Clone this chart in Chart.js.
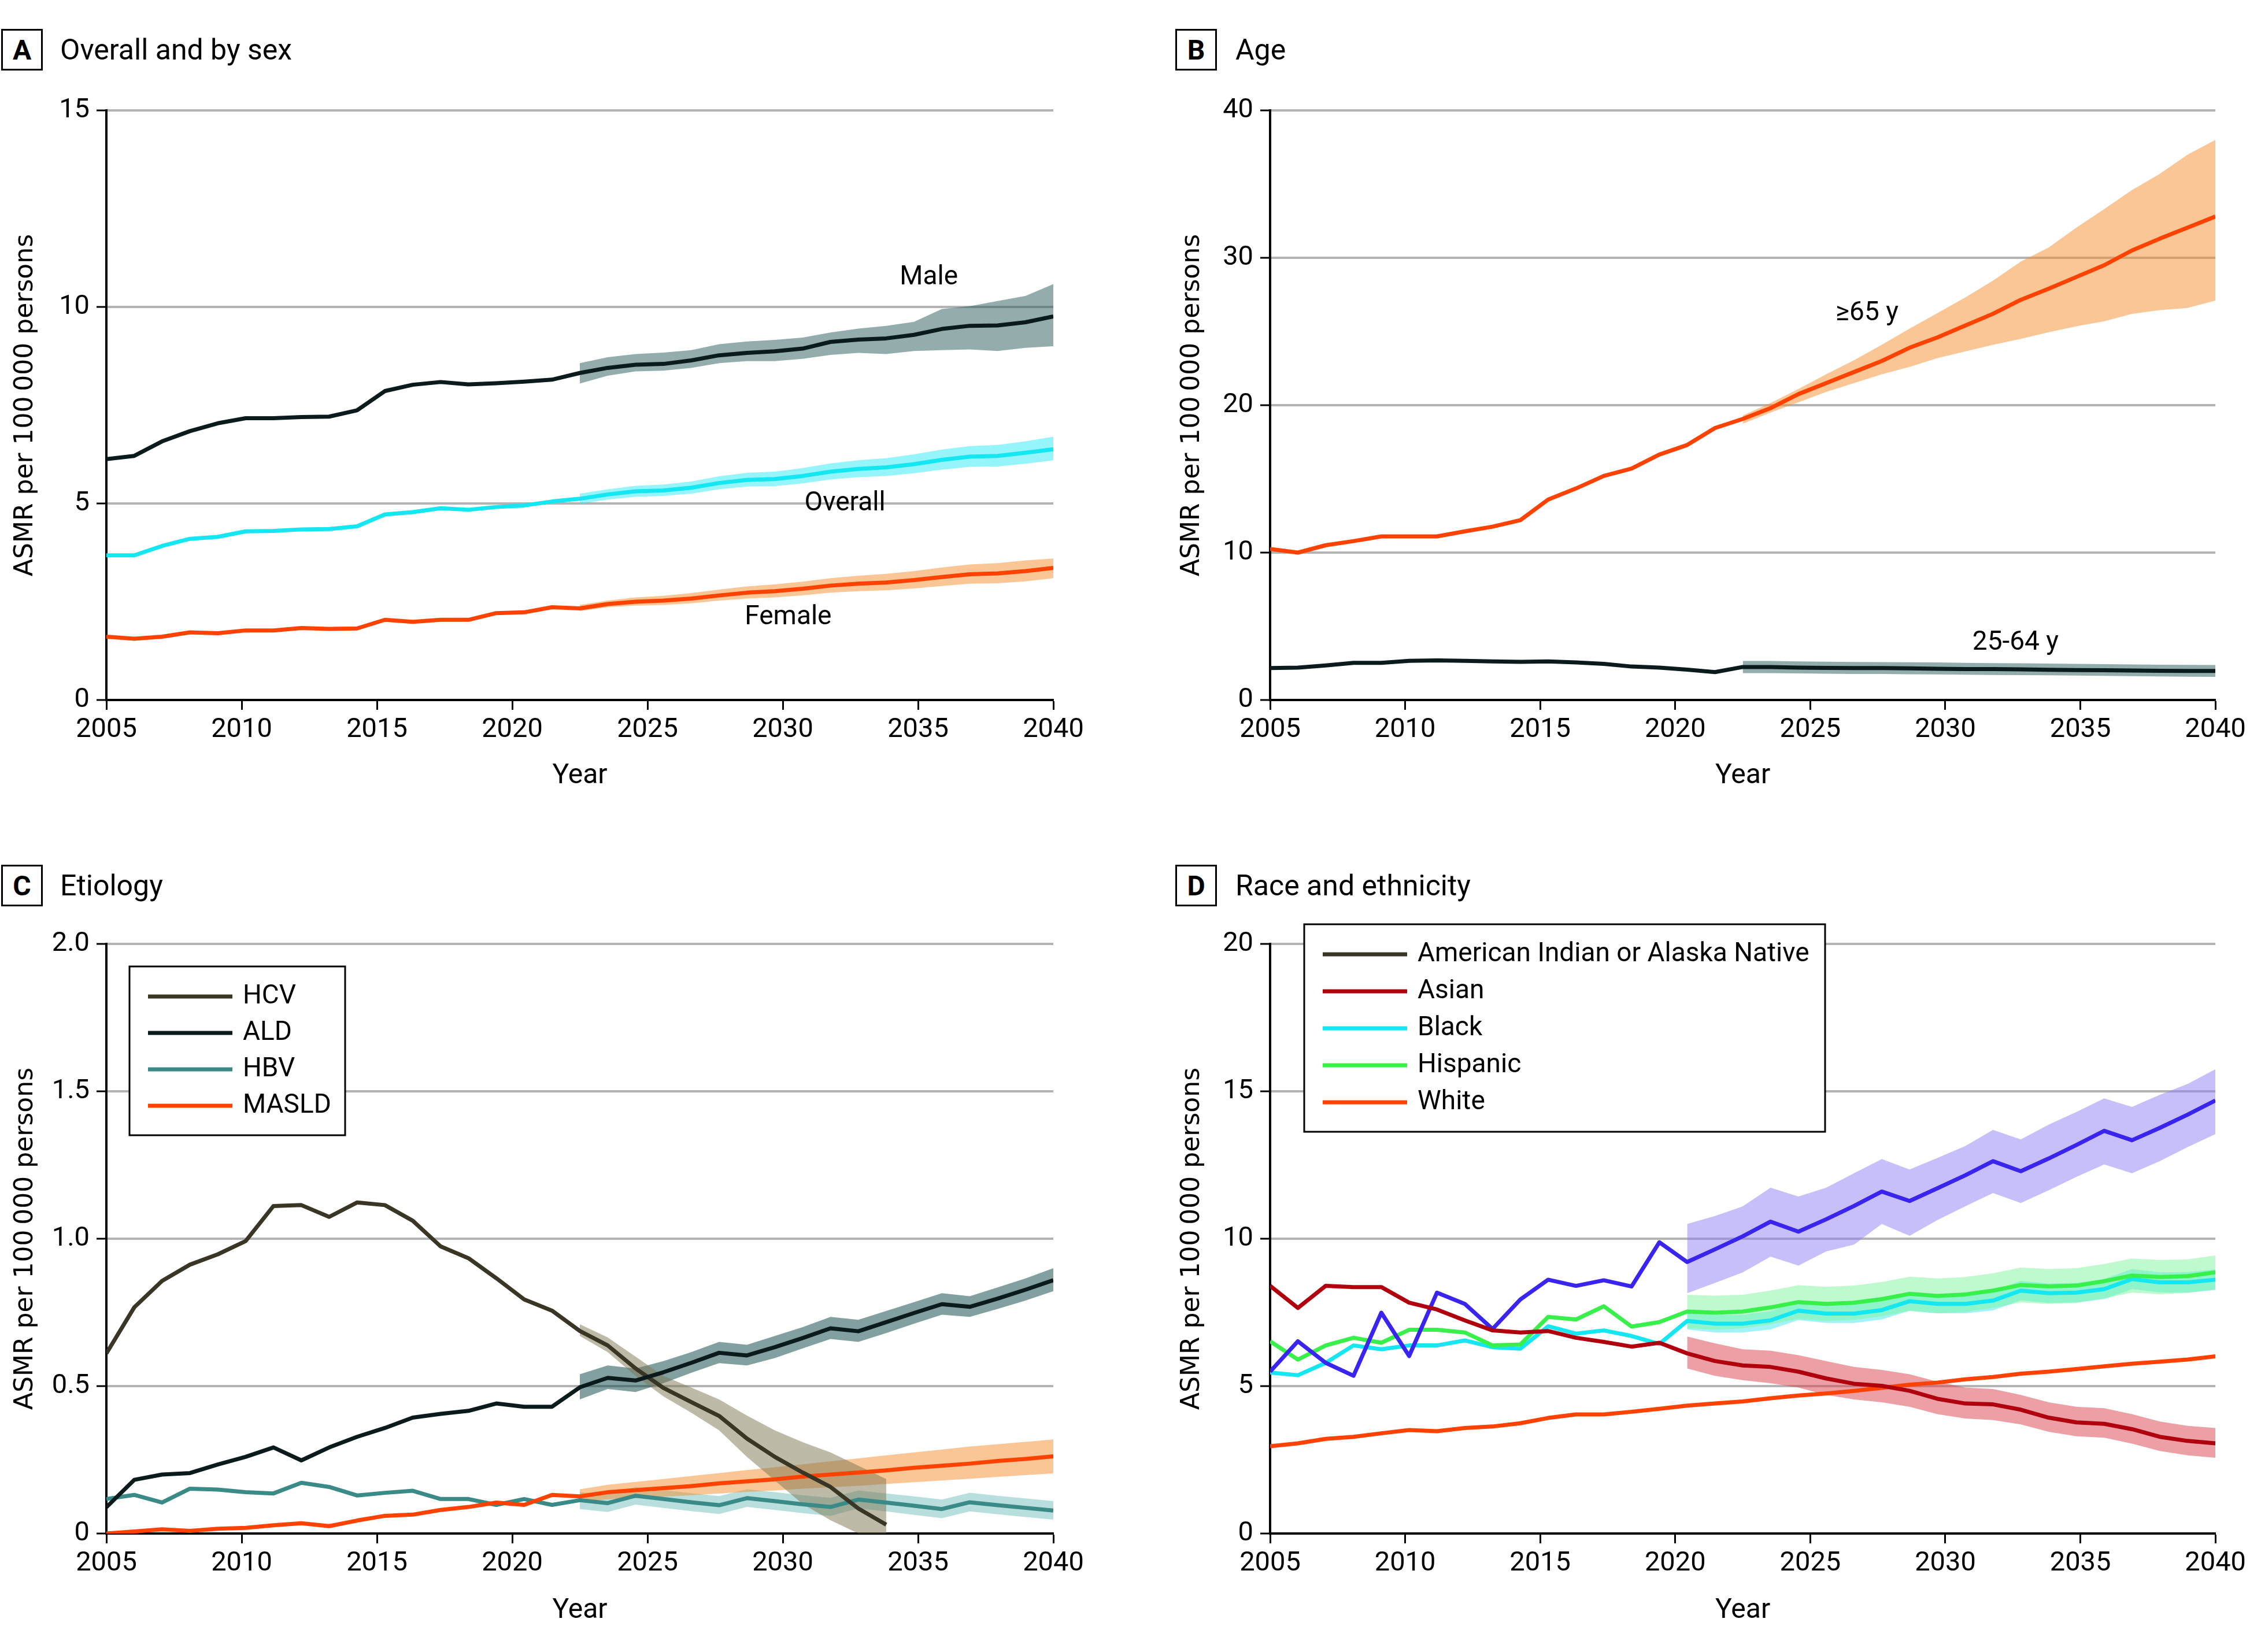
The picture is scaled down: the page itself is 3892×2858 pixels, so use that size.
<!DOCTYPE html>
<html>
<head>
<meta charset="utf-8">
<script src="https://cdn.jsdelivr.net/npm/chart.js@4.4.1/dist/chart.umd.min.js"></script>
<style>
body { margin: 0; background: #fff; width: 3892px; height: 2858px; position: relative; overflow: hidden; font-family: Roboto, sans-serif; }
canvas { position: absolute; }
.tag { position: absolute; width: 72px; height: 72px; border: 3px solid #000; box-sizing: border-box; font: bold 48px Roboto; display: flex; align-items: center; justify-content: center; }
.ttl { position: absolute; font: 50px Roboto; line-height: 72px; height: 72px; white-space: nowrap; }
</style>
</head>
<body>
<div class="tag" style="left:2px;top:50px">A</div><div class="ttl" style="left:104px;top:50px">Overall and by sex</div>
<div class="tag" style="left:2033px;top:50px">B</div><div class="ttl" style="left:2137px;top:50px">Age</div>
<div class="tag" style="left:2px;top:1496px">C</div><div class="ttl" style="left:104px;top:1496px">Etiology</div>
<div class="tag" style="left:2033px;top:1496px">D</div><div class="ttl" style="left:2137px;top:1496px">Race and ethnicity</div>

<canvas id="cA" width="1940" height="1284" style="left:0;top:130px"></canvas>
<canvas id="cB" width="1942" height="1284" style="left:1950px;top:130px"></canvas>
<canvas id="cC" width="1940" height="1418" style="left:0;top:1440px"></canvas>
<canvas id="cD" width="1942" height="1418" style="left:1950px;top:1440px"></canvas>

<script>
// 35 yearly points spread evenly over 2005-2040
const xTicks = [2005, 2010, 2015, 2020, 2025, 2030, 2035, 2040];
const yTicksA = [0, 5, 10, 15];
const yTicksB = [0, 10, 20, 30, 40];
const yTicksC = [0, 0.5, 1, 1.5, 2];
const yLabelsC = ["0", "0.5", "1.0", "1.5", "2.0"];
const yTicksD = [0, 5, 10, 15, 20];

// A: overall and by sex (projection band from point 17)
const male = [6.13, 6.21, 6.58, 6.84, 7.04, 7.17, 7.17, 7.20, 7.21, 7.37, 7.86, 8.02, 8.09, 8.03, 8.06, 8.10, 8.15, 8.32, 8.45, 8.53, 8.55, 8.64, 8.77, 8.83, 8.87, 8.94, 9.11, 9.17, 9.20, 9.29, 9.44, 9.52, 9.53, 9.61, 9.76];
const maleHi = [8.57, 8.72, 8.80, 8.84, 8.90, 9.05, 9.12, 9.16, 9.22, 9.35, 9.45, 9.52, 9.62, 9.95, 10.02, 10.15, 10.28, 10.58];
const maleLo = [8.05, 8.25, 8.36, 8.38, 8.45, 8.57, 8.62, 8.62, 8.68, 8.78, 8.83, 8.80, 8.88, 8.90, 8.92, 8.88, 8.96, 9.00];
const overall = [3.68, 3.68, 3.92, 4.10, 4.15, 4.29, 4.30, 4.34, 4.35, 4.42, 4.72, 4.78, 4.88, 4.84, 4.91, 4.95, 5.05, 5.12, 5.23, 5.31, 5.33, 5.40, 5.52, 5.60, 5.62, 5.70, 5.81, 5.88, 5.92, 6.00, 6.11, 6.19, 6.21, 6.29, 6.38];
const overallHi = [5.25, 5.36, 5.45, 5.48, 5.56, 5.69, 5.78, 5.81, 5.90, 6.02, 6.10, 6.15, 6.25, 6.37, 6.46, 6.49, 6.58, 6.70];
const overallLo = [4.99, 5.10, 5.17, 5.19, 5.25, 5.36, 5.43, 5.44, 5.51, 5.61, 5.67, 5.70, 5.77, 5.86, 5.93, 5.94, 6.01, 6.10];
const female = [1.61, 1.56, 1.61, 1.72, 1.70, 1.77, 1.77, 1.83, 1.81, 1.82, 2.04, 1.99, 2.04, 2.04, 2.21, 2.23, 2.36, 2.33, 2.44, 2.50, 2.53, 2.58, 2.66, 2.73, 2.77, 2.83, 2.91, 2.96, 2.99, 3.05, 3.13, 3.20, 3.22, 3.28, 3.36];
const femaleHi = [2.42, 2.53, 2.61, 2.65, 2.72, 2.81, 2.89, 2.94, 3.01, 3.10, 3.16, 3.21, 3.28, 3.37, 3.45, 3.48, 3.55, 3.60];
const femaleLo = [2.26, 2.36, 2.40, 2.42, 2.46, 2.53, 2.58, 2.61, 2.66, 2.73, 2.77, 2.79, 2.84, 2.90, 2.96, 2.97, 3.02, 3.10];

// B: age
const age65 = [10.25, 10.0, 10.5, 10.78, 11.1, 11.1, 11.1, 11.44, 11.76, 12.2, 13.6, 14.35, 15.2, 15.7, 16.65, 17.3, 18.45, 19.07, 19.8, 20.75, 21.5, 22.25, 23.0, 23.9, 24.6, 25.4, 26.2, 27.15, 27.9, 28.7, 29.5, 30.5, 31.3, 32.05, 32.8];
const age65Hi = [19.3, 20.15, 21.1, 22.1, 23.05, 24.1, 25.2, 26.25, 27.3, 28.45, 29.75, 30.7, 32.05, 33.3, 34.6, 35.7, 37.0, 38.0];
const age65Lo = [18.75, 19.5, 20.2, 20.9, 21.5, 22.1, 22.6, 23.2, 23.65, 24.1, 24.5, 24.95, 25.35, 25.7, 26.2, 26.45, 26.6, 27.1];
const age2564 = [2.17, 2.2, 2.34, 2.52, 2.52, 2.66, 2.69, 2.66, 2.62, 2.59, 2.62, 2.55, 2.45, 2.27, 2.2, 2.06, 1.89, 2.24, 2.24, 2.2, 2.18, 2.17, 2.17, 2.15, 2.12, 2.1, 2.1, 2.08, 2.05, 2.03, 2.02, 2.0, 1.98, 1.97, 1.97];
const age2564Hi = [2.65, 2.65, 2.62, 2.6, 2.58, 2.57, 2.56, 2.55, 2.52, 2.5, 2.49, 2.47, 2.45, 2.43, 2.41, 2.39, 2.38, 2.37];
const age2564Lo = [1.82, 1.82, 1.8, 1.78, 1.76, 1.76, 1.75, 1.74, 1.72, 1.7, 1.69, 1.68, 1.66, 1.64, 1.62, 1.6, 1.58, 1.57];

// C: etiology
const hcv = [0.611, 0.767, 0.857, 0.912, 0.947, 0.992, 1.111, 1.114, 1.074, 1.123, 1.114, 1.061, 0.974, 0.934, 0.866, 0.794, 0.756, 0.687, 0.638, 0.560, 0.494, 0.446, 0.399, 0.322, 0.260, 0.207, 0.158, 0.085, 0.030];
const hcvHi = [0.71, 0.665, 0.6, 0.535, 0.495, 0.455, 0.4, 0.35, 0.31, 0.275, 0.23, 0.185];
const hcvLo = [0.67, 0.615, 0.535, 0.465, 0.41, 0.35, 0.26, 0.18, 0.1, 0.045, 0.0, 0.0];
const ald = [0.089, 0.182, 0.2, 0.205, 0.234, 0.26, 0.292, 0.248, 0.292, 0.328, 0.358, 0.393, 0.406, 0.416, 0.441, 0.43, 0.43, 0.496, 0.528, 0.519, 0.547, 0.579, 0.613, 0.604, 0.632, 0.663, 0.696, 0.686, 0.717, 0.748, 0.778, 0.769, 0.797, 0.827, 0.859];
const aldHi = [0.54, 0.57, 0.56, 0.585, 0.615, 0.65, 0.64, 0.67, 0.70, 0.735, 0.725, 0.755, 0.785, 0.815, 0.805, 0.835, 0.865, 0.9];
const aldLo = [0.455, 0.49, 0.48, 0.51, 0.545, 0.578, 0.57, 0.595, 0.628, 0.66, 0.65, 0.68, 0.712, 0.742, 0.735, 0.762, 0.79, 0.822];
const hbv = [0.117, 0.131, 0.105, 0.152, 0.149, 0.14, 0.136, 0.172, 0.158, 0.129, 0.138, 0.145, 0.117, 0.117, 0.097, 0.117, 0.097, 0.113, 0.103, 0.128, 0.117, 0.106, 0.096, 0.12, 0.11, 0.099, 0.09, 0.115, 0.105, 0.094, 0.083, 0.106, 0.096, 0.087, 0.078];
const hbvHi = [0.14, 0.133, 0.158, 0.147, 0.137, 0.127, 0.15, 0.14, 0.13, 0.121, 0.146, 0.136, 0.126, 0.115, 0.138, 0.128, 0.119, 0.11];
const hbvLo = [0.083, 0.073, 0.098, 0.087, 0.076, 0.066, 0.09, 0.08, 0.069, 0.06, 0.085, 0.075, 0.063, 0.052, 0.075, 0.065, 0.056, 0.047];
const masld = [0.0, 0.007, 0.014, 0.009, 0.016, 0.019, 0.028, 0.035, 0.025, 0.044, 0.06, 0.064, 0.08, 0.09, 0.105, 0.097, 0.131, 0.126, 0.14, 0.147, 0.154, 0.161, 0.17, 0.177, 0.184, 0.193, 0.2, 0.207, 0.214, 0.223, 0.23, 0.237, 0.246, 0.253, 0.262];
const masldHi = [0.15, 0.165, 0.175, 0.185, 0.195, 0.205, 0.215, 0.225, 0.235, 0.245, 0.255, 0.265, 0.275, 0.285, 0.295, 0.303, 0.311, 0.319];
const masldLo = [0.106, 0.116, 0.12, 0.125, 0.13, 0.136, 0.141, 0.146, 0.152, 0.157, 0.162, 0.168, 0.174, 0.18, 0.186, 0.192, 0.198, 0.204];

// D: race and ethnicity (projection band from point 15)
const aian = [5.49, 6.52, 5.79, 5.35, 7.49, 6.02, 8.17, 7.79, 6.94, 7.94, 8.61, 8.40, 8.59, 8.38, 9.88, 9.21, 9.64, 10.08, 10.58, 10.24, 10.66, 11.11, 11.6, 11.28, 11.71, 12.15, 12.63, 12.29, 12.72, 13.18, 13.66, 13.34, 13.76, 14.21, 14.69];
const aianHi = [10.5, 10.77, 11.1, 11.73, 11.43, 11.73, 12.22, 12.7, 12.35, 12.74, 13.14, 13.69, 13.37, 13.87, 14.3, 14.76, 14.47, 14.88, 15.25, 15.75];
const aianLo = [8.15, 8.5, 8.86, 9.39, 9.09, 9.57, 9.8, 10.5, 10.1, 10.63, 11.1, 11.55, 11.21, 11.64, 12.1, 12.52, 12.22, 12.63, 13.11, 13.55];
const asian = [8.40, 7.65, 8.40, 8.36, 8.36, 7.83, 7.6, 7.23, 6.89, 6.82, 6.87, 6.64, 6.5, 6.34, 6.47, 6.11, 5.85, 5.7, 5.65, 5.49, 5.26, 5.08, 5.01, 4.84, 4.57, 4.41, 4.38, 4.2, 3.93, 3.77, 3.72, 3.54, 3.28, 3.14, 3.06];
const asianHi = [6.68, 6.45, 6.25, 6.2, 6.05, 5.85, 5.65, 5.55, 5.4, 5.15, 4.95, 4.9, 4.7, 4.45, 4.3, 4.25, 4.05, 3.8, 3.65, 3.58];
const asianLo = [5.6, 5.35, 5.2, 5.1, 4.95, 4.7, 4.55, 4.45, 4.3, 4.05, 3.9, 3.85, 3.7, 3.45, 3.3, 3.25, 3.05, 2.8, 2.65, 2.57];
const black = [5.46, 5.37, 5.79, 6.38, 6.25, 6.38, 6.38, 6.55, 6.32, 6.27, 7.03, 6.78, 6.89, 6.7, 6.43, 7.21, 7.12, 7.12, 7.23, 7.56, 7.46, 7.46, 7.58, 7.88, 7.79, 7.79, 7.9, 8.24, 8.15, 8.17, 8.29, 8.63, 8.52, 8.52, 8.61];
const blackHi = [7.5, 7.42, 7.42, 7.54, 7.88, 7.78, 7.78, 7.9, 8.2, 8.11, 8.11, 8.23, 8.57, 8.48, 8.5, 8.63, 8.97, 8.86, 8.87, 8.96];
const blackLo = [6.92, 6.82, 6.82, 6.92, 7.24, 7.14, 7.14, 7.26, 7.56, 7.47, 7.47, 7.57, 7.91, 7.82, 7.84, 7.95, 8.29, 8.18, 8.17, 8.26];
const hispanic = [6.52, 5.9, 6.38, 6.64, 6.47, 6.91, 6.91, 6.82, 6.38, 6.41, 7.35, 7.26, 7.71, 7.02, 7.17, 7.53, 7.49, 7.53, 7.67, 7.85, 7.79, 7.83, 7.95, 8.13, 8.06, 8.11, 8.24, 8.43, 8.38, 8.41, 8.56, 8.75, 8.7, 8.73, 8.86];
const hispanicHi = [8.1, 8.07, 8.1, 8.24, 8.42, 8.37, 8.41, 8.53, 8.71, 8.65, 8.7, 8.83, 9.02, 8.97, 9.0, 9.14, 9.33, 9.28, 9.3, 9.43];
const hispanicLo = [6.96, 6.91, 6.96, 7.1, 7.28, 7.21, 7.25, 7.37, 7.55, 7.47, 7.52, 7.65, 7.84, 7.79, 7.82, 7.98, 8.17, 8.12, 8.16, 8.29];
const white = [2.96, 3.06, 3.21, 3.28, 3.4, 3.51, 3.47, 3.58, 3.63, 3.74, 3.92, 4.04, 4.04, 4.13, 4.23, 4.34, 4.41, 4.48, 4.59, 4.68, 4.75, 4.84, 4.94, 5.05, 5.12, 5.23, 5.31, 5.42, 5.49, 5.58, 5.67, 5.76, 5.83, 5.9, 6.01];

const legendC = ["HCV", "ALD", "HBV", "MASLD"];
const legendD = ["American Indian or Alaska Native", "Asian", "Black", "Hispanic", "White"];

// colours
const DARK = "#0b1b1c", CYAN = "#14e6f2", ORANGE = "#ff4200", OLIVE = "#3a3626", TEAL = "#3a8a87";
const RED = "#b0000e", GREEN = "#38f04a", BLUE = "#3a24f0";
const bDark = "rgba(39,91,91,0.5)", bCyan = "rgba(45,235,245,0.5)", bOrange = "rgba(245,141,45,0.5)";
const bOlive = "rgba(125,117,81,0.5)", bAld = "rgba(5,65,65,0.5)", bTeal = "rgba(115,189,189,0.5)";
const bRed = "rgba(217,65,77,0.5)", bBlack = "rgba(65,233,241,0.5)", bGreen = "rgba(125,245,155,0.5)", bBlue = "rgba(141,127,245,0.5)";

Chart.defaults.font.family = "Roboto";
Chart.defaults.color = "#000";

const step = 35 / 34;
function pts(vals, start) {
    return vals.map((v, i) => ({ x: 2005 + (start + i) * step, y: v }));
}

function line(vals, color) {
    return { data: pts(vals, 0), borderColor: color, borderWidth: 7, pointRadius: 0, fill: false, order: 1, borderJoinStyle: "round" };
}

function band(hi, lo, start, color) {
    return [
        { data: pts(hi, start), borderColor: "rgba(0,0,0,0)", borderWidth: 0, pointRadius: 0, fill: "+1", backgroundColor: color, order: 5 },
        { data: pts(lo, start), borderColor: "rgba(0,0,0,0)", borderWidth: 0, pointRadius: 0, fill: false, order: 5 }
    ];
}

function notesPlugin(notes) {
    return {
        id: "notes",
        afterDatasetsDraw(chart) {
            const { ctx, scales } = chart;
            ctx.save();
            ctx.font = "46px Roboto";
            ctx.fillStyle = "#000";
            ctx.textAlign = "center";
            ctx.textBaseline = "middle";
            notes.forEach(n => ctx.fillText(n.text, scales.x.getPixelForValue(n.x), scales.y.getPixelForValue(n.y)));
            ctx.restore();
        }
    };
}

function legendPlugin(names, colors, box) {
    return {
        id: "boxLegend",
        afterDraw(chart) {
            const { ctx, chartArea } = chart;
            const x0 = chartArea.left + box.dx, y0 = chartArea.top + box.dy;
            ctx.save();
            ctx.fillStyle = "#fff";
            ctx.fillRect(x0, y0, box.w, box.h);
            ctx.strokeStyle = "#000";
            ctx.lineWidth = 3;
            ctx.strokeRect(x0, y0, box.w, box.h);
            ctx.font = "46px Roboto";
            ctx.textBaseline = "middle";
            names.forEach((name, i) => {
                const y = y0 + box.first + i * box.gap;
                ctx.strokeStyle = colors[i];
                ctx.lineWidth = 7;
                ctx.beginPath();
                ctx.moveTo(x0 + 32, y);
                ctx.lineTo(x0 + 178, y);
                ctx.stroke();
                ctx.fillStyle = "#000";
                ctx.fillText(name, x0 + 196, y);
            });
            ctx.restore();
        }
    };
}

function makeChart(id, lay, yTicks, yLabels, datasets, plugins) {
    const cv = document.getElementById(id);
    new Chart(cv, {
        type: "line",
        data: { datasets: datasets },
        options: {
            responsive: false,
            animation: false,
            devicePixelRatio: 1,
            layout: { padding: { top: lay.padTop, right: lay.padRight, left: 0, bottom: 0 } },
            plugins: { legend: { display: false }, tooltip: { enabled: false } },
            scales: {
                x: {
                    type: "linear", min: 2005, max: 2040,
                    afterBuildTicks: s => { s.ticks = xTicks.map(v => ({ value: v })); },
                    afterFit: s => { s.height = lay.xh; },
                    ticks: { font: { size: 47 }, color: "#000", padding: 7, maxRotation: 0, autoSkip: false, callback: v => String(v) },
                    grid: { drawOnChartArea: false, drawTicks: true, tickLength: 17, tickColor: "#000", tickWidth: 3 },
                    border: { color: "#000", width: 4 },
                    title: { display: true, text: "Year", color: "#000", font: { size: 48, lineHeight: 1.2 }, padding: { top: 0, bottom: 42 } }
                },
                y: {
                    min: 0, max: yTicks[yTicks.length - 1],
                    afterBuildTicks: s => { s.ticks = yTicks.map(v => ({ value: v })); },
                    afterFit: s => { s.width = lay.yw; },
                    ticks: { font: { size: 47 }, color: "#000", padding: 12, callback: (v, i) => yLabels[i] },
                    grid: {
                        color: c => (c.tick && c.tick.value === 0) ? "rgba(0,0,0,0)" : "#b3b3b3",
                        lineWidth: 4, drawTicks: true, tickLength: 17, tickColor: "#000", tickWidth: 3
                    },
                    border: { color: "#000", width: 4 },
                    title: {
                        display: true, text: "ASMR per 100\u2009000 persons", color: "#000",
                        font: { family: "DejaVu Sans", size: 44, lineHeight: 1.2 },
                        padding: { top: lay.titlePad, bottom: 0 }
                    }
                }
            }
        },
        plugins: plugins
    });
}

const layLeft = { padTop: 61, padRight: 118, yw: 184, xh: 203, titlePad: 18 };
const layRight = { padTop: 61, padRight: 57, yw: 247, xh: 203, titlePad: 86 };
const layLeftLow = { padTop: 193, padRight: 118, yw: 184, xh: 205, titlePad: 18 };
const layRightLow = { padTop: 193, padRight: 57, yw: 247, xh: 205, titlePad: 86 };

makeChart("cA", layLeft, yTicksA, yTicksA.map(String), [
    line(male, DARK), line(overall, CYAN), line(female, ORANGE),
    ...band(maleHi, maleLo, 17, bDark),
    ...band(overallHi, overallLo, 17, bCyan),
    ...band(femaleHi, femaleLo, 17, bOrange)
], [notesPlugin([
    { text: "Male", x: 2035.4, y: 10.75 },
    { text: "Overall", x: 2032.3, y: 5.0 },
    { text: "Female", x: 2030.2, y: 2.1 }
])]);

makeChart("cB", layRight, yTicksB, yTicksB.map(String), [
    line(age2564, DARK), line(age65, ORANGE),
    ...band(age65Hi, age65Lo, 17, bOrange),
    ...band(age2564Hi, age2564Lo, 17, bDark)
], [notesPlugin([
    { text: "\u226565 y", x: 2027.1, y: 26.2 },
    { text: "25-64 y", x: 2032.6, y: 3.85 }
])]);

makeChart("cC", layLeftLow, yTicksC, yLabelsC, [
    line(ald, DARK), line(hcv, OLIVE), line(masld, ORANGE), line(hbv, TEAL),
    ...band(hcvHi, hcvLo, 17, bOlive),
    ...band(aldHi, aldLo, 17, bAld),
    ...band(masldHi, masldLo, 17, bOrange),
    ...band(hbvHi, hbvLo, 17, bTeal)
], [legendPlugin(legendC, [OLIVE, DARK, TEAL, ORANGE], { dx: 40, dy: 39, w: 373, h: 292, first: 52, gap: 63 })]);

makeChart("cD", layRightLow, yTicksD, yTicksD.map(String), [
    line(asian, RED), line(aian, BLUE), line(hispanic, GREEN), line(black, CYAN), line(white, ORANGE),
    ...band(aianHi, aianLo, 15, bBlue),
    ...band(asianHi, asianLo, 15, bRed),
    ...band(hispanicHi, hispanicLo, 15, bGreen),
    ...band(blackHi, blackLo, 15, bBlack)
], [legendPlugin(legendD, [OLIVE, RED, CYAN, GREEN, ORANGE], { dx: 59, dy: -34, w: 901, h: 359, first: 52, gap: 64 })]);
</script>
</body>
</html>
